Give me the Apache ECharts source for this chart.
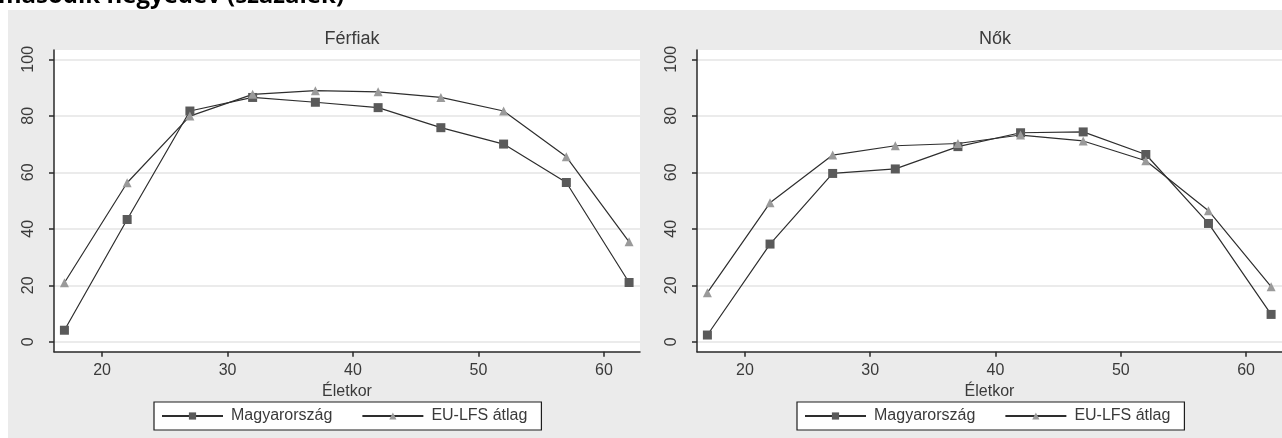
<!DOCTYPE html>
<html>
<head>
<meta charset="utf-8">
<script src="https://cdn.jsdelivr.net/npm/echarts@6/dist/echarts.min.js"></script>
<style>
html,body{margin:0;padding:0;background:#fff;}
#c{width:1282px;height:438px;}
</style>
</head>
<body>
<div id="c"></div>
<script>
const ages = [17, 22, 27, 32, 37, 42, 47, 52, 57, 62];
const menHU = [4.1, 43.3, 81.7, 86.5, 84.8, 82.9, 75.8, 70.0, 56.4, 21.0];
const menEU = [20.9, 56.3, 79.9, 87.6, 88.9, 88.5, 86.5, 81.7, 65.5, 35.4];
const womenHU = [2.4, 34.6, 59.6, 61.2, 69.1, 74.0, 74.3, 66.3, 41.9, 9.7];
const womenEU = [17.4, 49.2, 66.1, 69.4, 70.2, 73.2, 71.1, 64.1, 46.4, 19.5];
const xTicks = [20, 30, 40, 50, 60];
const yTicks = [0, 20, 40, 60, 80, 100];
const panelTitles = ['Férfiak', 'Nők'];
const seriesNames = ['Magyarország', 'EU-LFS átlag'];
const xName = 'Életkor';
const pageTitle = 'második negyedév (százalék)';

const FONT = 'Liberation Sans, Arial, sans-serif';
const chart = echarts.init(document.getElementById('c'), null, {renderer: 'canvas'});

const grids = [
  {left: 54, right: 642, top: 50, bottom: 86.3, show: true, backgroundColor: '#fff', borderWidth: 0},
  {left: 697, right: -1, top: 50, bottom: 86.3, show: true, backgroundColor: '#fff', borderWidth: 0}
];

function xAxis(i) {
  return {
    type: 'value', gridIndex: i, min: 16.17, max: 62.87,
    name: xName, nameLocation: 'middle', nameGap: 23,
    nameTextStyle: {fontFamily: FONT, fontSize: 16, color: '#3a3a3a'},
    axisLine: {show: true, onZero: false, lineStyle: {color: '#2a2a2a', width: 1.5}},
    axisTick: {show: true, length: 5, customValues: xTicks, lineStyle: {color: '#2a2a2a', width: 1.5}},
    axisLabel: {customValues: xTicks, margin: 11, fontFamily: FONT, fontSize: 16, color: '#3a3a3a'},
    splitLine: {show: false}
  };
}
function yAxis(i) {
  return {
    type: 'value', gridIndex: i, min: -3.5, max: 103.3,
    axisLine: {show: true, onZero: false, lineStyle: {color: '#2a2a2a', width: 1.5}},
    axisTick: {show: true, length: 5, customValues: yTicks, lineStyle: {color: '#2a2a2a', width: 1.5}},
    axisLabel: {customValues: yTicks, rotate: 90, margin: 17, fontFamily: FONT, fontSize: 16, color: '#3a3a3a'},
    splitLine: {show: true, lineStyle: {color: '#e4e4e4', width: 1.5}}
  };
}
function pairs(vals) { return ages.map((a, k) => [a, vals[k]]); }
function huSeries(i, vals) {
  return {
    name: seriesNames[0], type: 'line', xAxisIndex: i, yAxisIndex: i,
    data: pairs(vals), symbol: 'rect', symbolSize: 9,
    itemStyle: {color: '#5a5a5a'},
    lineStyle: {color: '#2e2e2e', width: 1.2},
    animation: false
  };
}
function euSeries(i, vals) {
  return {
    name: seriesNames[1], type: 'line', xAxisIndex: i, yAxisIndex: i,
    data: pairs(vals), symbol: 'triangle', symbolSize: 9,
    itemStyle: {color: '#9a9a9a'},
    lineStyle: {color: '#2e2e2e', width: 1.2},
    animation: false
  };
}
function legend(left) {
  return {
    left: left, top: 402, orient: 'horizontal',
    data: seriesNames,
    itemWidth: 61, itemHeight: 9, itemGap: 29,
    padding: [6, 14, 6, 7],
    backgroundColor: '#fff', borderColor: '#1e1e1e', borderWidth: 1.2, borderRadius: 0,
    selectedMode: false,
    textStyle: {fontFamily: FONT, fontSize: 16, color: '#3a3a3a', padding: [0, 0, 0, 3]}
  };
}

const option = {
  backgroundColor: '#fff',
  animation: false,
  title: panelTitles.map((t, i) => ({
    text: t, left: i === 0 ? 347 : 990, top: 25, textAlign: 'center',
    textStyle: {fontFamily: FONT, fontSize: 18, fontWeight: 'normal', color: '#3a3a3a'}
  })),
  graphic: [
    {type: 'rect', z: -10, shape: {x: 8, y: 10, width: 1274, height: 428}, style: {fill: '#ebebeb'}, silent: true},
    {type: 'text', z: 10, x: -2, y: 8, style: {text: pageTitle, fontFamily: 'Open Sans, Liberation Sans, sans-serif', fontWeight: 'bold', fontSize: 24, fill: '#000', verticalAlign: 'bottom'}}
  ],
  grid: grids,
  xAxis: [xAxis(0), xAxis(1)],
  yAxis: [yAxis(0), yAxis(1)],
  legend: [legend(154), legend(797)],
  series: [huSeries(0, menHU), euSeries(0, menEU), huSeries(1, womenHU), euSeries(1, womenEU)]
};
chart.setOption(option);
</script>
</body>
</html>
